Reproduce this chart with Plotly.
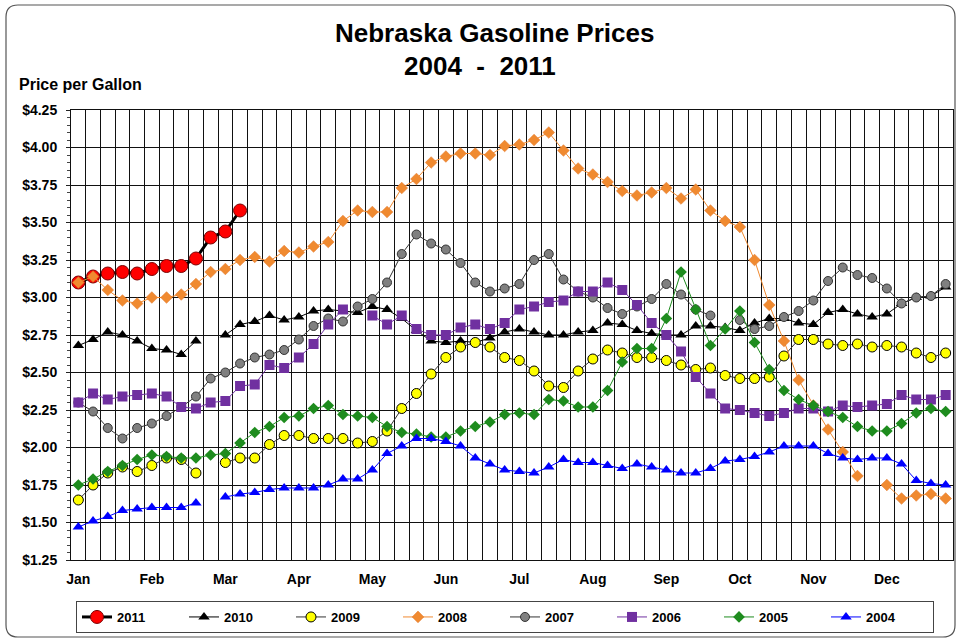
import plotly.graph_objects as go

# ---------------- data ----------------
slots = list(range(1, 61))          # 5 weekly slots per month
month_labels = ["Jan", "Feb", "Mar", "Apr", "May", "Jun",
                "Jul", "Aug", "Sep", "Oct", "Nov", "Dec"]
month_slots = [1, 6, 11, 16, 21, 26, 31, 36, 41, 46, 51, 56]
years = ["2011", "2010", "2009", "2008", "2007", "2006", "2005", "2004"]

p2011 = [3.10, 3.14, 3.16, 3.17, 3.16, 3.19, 3.21, 3.21, 3.26, 3.40, 3.44, 3.58]

p2010 = [2.68, 2.72, 2.77, 2.75, 2.71, 2.66, 2.65, 2.62, 2.71, None,
         2.75, 2.82, 2.84, 2.88, 2.85, 2.87, 2.91, 2.92, 2.91, 2.90,
         2.94, 2.92, 2.86, 2.78, 2.71, 2.70, 2.71, 2.70, 2.73, 2.77,
         2.79, 2.77, 2.75, 2.75, 2.77, 2.78, 2.83, 2.82, 2.78, 2.76,
         2.75, 2.75, 2.81, 2.81, 2.80, 2.78, 2.83, 2.86, 2.86, 2.83,
         2.82, 2.90, 2.92, 2.89, 2.87, 2.89, 2.96, 3.00, 3.01, 3.07]

p2009 = [1.65, 1.75, 1.83, 1.87, 1.84, 1.88, 1.93, 1.92, 1.83, None,
         1.90, 1.93, 1.93, 2.02, 2.08, 2.08, 2.06, 2.06, 2.06, 2.03,
         2.04, 2.11, 2.26, 2.36, 2.49, 2.60, 2.67, 2.70, 2.67, 2.60,
         2.58, 2.51, 2.41, 2.40, 2.51, 2.59, 2.65, 2.63, 2.60, 2.60,
         2.58, 2.55, 2.52, 2.53, 2.48, 2.46, 2.46, 2.47, 2.61, 2.72,
         2.72, 2.69, 2.68, 2.69, 2.67, 2.68, 2.67, 2.63, 2.60, 2.63]

p2008 = [3.10, 3.14, 3.05, 2.98, 2.96, 3.00, 3.00, 3.02, 3.09, 3.17,
         3.19, 3.25, 3.27, 3.24, 3.31, 3.30, 3.34, 3.37, 3.51, 3.58,
         3.57, 3.57, 3.73, 3.79, 3.90, 3.94, 3.96, 3.96, 3.95, 4.01,
         4.02, 4.05, 4.10, 3.98, 3.86, 3.82, 3.77, 3.71, 3.68, 3.70,
         3.73, 3.66, 3.72, 3.58, 3.51, 3.47, 3.25, 2.95, 2.71, 2.45,
         2.28, 2.12, 1.97, 1.81, None, 1.75, 1.66, 1.68, 1.69, 1.66]

p2007 = [2.30, 2.24, 2.13, 2.06, 2.13, 2.16, 2.21, 2.27, 2.34, 2.46,
         2.50, 2.56, 2.60, 2.62, 2.65, 2.72, 2.81, 2.86, 2.84, 2.94,
         2.99, 3.10, 3.29, 3.42, 3.36, 3.32, 3.23, 3.10, 3.04, 3.06,
         3.09, 3.25, 3.29, 3.12, 3.04, 3.00, 2.93, 2.89, 2.94, 2.99,
         3.09, 3.02, 2.92, 2.88, None, 2.85, 2.79, 2.81, 2.87, 2.91,
         2.98, 3.11, 3.20, 3.15, 3.13, 3.06, 2.96, 3.00, 3.01, 3.09]

p2006 = [2.30, 2.36, 2.32, 2.34, 2.35, 2.36, 2.34, 2.27, 2.26, 2.30,
         2.31, 2.41, 2.42, 2.55, 2.53, 2.60, 2.69, 2.82, 2.92, None,
         2.88, 2.82, 2.88, 2.79, 2.75, 2.75, 2.80, 2.82, 2.79, 2.83,
         2.92, 2.94, 2.97, 2.98, 3.04, 3.04, 3.10, 3.05, 2.95, 2.83,
         2.75, 2.64, 2.47, 2.36, 2.26, 2.25, 2.23, 2.21, 2.23, 2.26,
         2.26, 2.24, 2.28, 2.27, 2.28, 2.29, 2.35, 2.32, 2.32, 2.35]

p2005 = [1.75, 1.79, 1.84, 1.88, 1.92, 1.95, 1.94, 1.93, 1.93, 1.95,
         1.96, 2.03, 2.10, 2.14, 2.20, 2.21, 2.26, 2.28, 2.22, 2.21,
         2.20, 2.14, 2.10, 2.09, 2.07, 2.07, 2.11, 2.14, 2.17, 2.22,
         2.23, 2.22, 2.32, 2.31, 2.27, 2.27, 2.38, 2.57, 2.66, 2.66,
         2.86, 3.17, 2.92, 2.68, 2.79, 2.91, 2.70, 2.52, 2.38, 2.32,
         2.28, 2.24, 2.20, 2.14, 2.11, 2.11, 2.16, 2.23, 2.26, 2.24]

p2004 = [1.47, 1.51, 1.54, 1.58, 1.59, 1.60, 1.60, 1.60, 1.63, None,
         1.67, 1.69, 1.70, 1.72, 1.73, 1.73, 1.73, 1.75, 1.79, 1.79,
         1.85, 1.96, 2.01, 2.06, 2.06, 2.04, 2.01, 1.93, 1.89, 1.85,
         1.84, 1.83, 1.87, 1.92, 1.90, 1.90, 1.88, 1.86, 1.89, 1.87,
         1.85, 1.83, 1.83, 1.86, 1.91, 1.92, 1.94, 1.97, 2.01, 2.01,
         2.01, 1.96, 1.93, 1.92, 1.93, 1.93, 1.89, 1.78, 1.76, 1.75]

y_ticks = [1.25, 1.50, 1.75, 2.00, 2.25, 2.50, 2.75, 3.00, 3.25, 3.50, 3.75, 4.00, 4.25]
y_tick_text = ["$1.25", "$1.50", "$1.75", "$2.00", "$2.25", "$2.50", "$2.75",
               "$3.00", "$3.25", "$3.50", "$3.75", "$4.00", "$4.25"]

# ---------------- styles ----------------
styles = {
    "2011": dict(marker=dict(color="#FF0000", symbol="circle", size=13,
                             line=dict(color="#7A0000", width=1)),
                 line=dict(color="#000000", width=3)),
    "2010": dict(marker=dict(color="#000000", symbol="triangle-up", size=10),
                 line=dict(color="#000000", width=1)),
    "2009": dict(marker=dict(color="#FFFF00", symbol="circle", size=10,
                             line=dict(color="#000000", width=1)),
                 line=dict(color="#333333", width=1)),
    "2008": dict(marker=dict(color="#F08A30", symbol="diamond", size=9,
                             line=dict(color="#E07020", width=0.5)),
                 line=dict(color="#F08A30", width=1)),
    "2007": dict(marker=dict(color="#808080", symbol="circle", size=9,
                             line=dict(color="#333333", width=1)),
                 line=dict(color="#333333", width=1)),
    "2006": dict(marker=dict(color="#7030A0", symbol="square", size=10),
                 line=dict(color="#7030A0", width=1)),
    "2005": dict(marker=dict(color="#1E8C1E", symbol="diamond", size=9),
                 line=dict(color="#1E8C1E", width=1)),
    "2004": dict(marker=dict(color="#0000FF", symbol="triangle-up", size=10),
                 line=dict(color="#0000FF", width=1)),
}
values = {"2011": p2011, "2010": p2010, "2009": p2009, "2008": p2008,
          "2007": p2007, "2006": p2006, "2005": p2005, "2004": p2004}

fig = go.Figure()
for yr in years:
    vals = values[yr]
    fig.add_trace(go.Scatter(
        x=slots[:len(vals)], y=vals, name=yr, mode="lines+markers",
        connectgaps=False, marker=styles[yr]["marker"], line=styles[yr]["line"],
    ))

# layout geometry (pixels)
W, H = 961, 642
L, R, T, B = 71, 8, 110, 82
pw, ph = W - L - R, H - T - B


def px_x(px):
    return (px - L) / pw


def px_y(py):
    return (H - B - py) / ph


font_family = "Arial, Liberation Sans, sans-serif"

# rounded outer border
x0, x1, y0, y1, r = 6, 955, 5, 637, 12
path = (f"M {px_x(x0 + r)},{px_y(y0)} L {px_x(x1 - r)},{px_y(y0)} "
        f"Q {px_x(x1)},{px_y(y0)} {px_x(x1)},{px_y(y0 + r)} "
        f"L {px_x(x1)},{px_y(y1 - r)} Q {px_x(x1)},{px_y(y1)} {px_x(x1 - r)},{px_y(y1)} "
        f"L {px_x(x0 + r)},{px_y(y1)} Q {px_x(x0)},{px_y(y1)} {px_x(x0)},{px_y(y1 - r)} "
        f"L {px_x(x0)},{px_y(y0 + r)} Q {px_x(x0)},{px_y(y0)} {px_x(x0 + r)},{px_y(y0)} Z")

fig.update_layout(
    width=W, height=H,
    margin=dict(l=L, r=R, t=T, b=B, autoexpand=False),
    paper_bgcolor="white", plot_bgcolor="white",
    font=dict(family=font_family, size=12, color="black"),
    showlegend=True,
    legend=dict(orientation="h", x=px_x(505), xanchor="center", y=px_y(601), yanchor="top",
                bordercolor="#444444", borderwidth=1, bgcolor="white",
                font=dict(family=font_family, size=13, color="black", weight="bold"),
                entrywidth=62, entrywidthmode="pixels", traceorder="normal"),
    shapes=[dict(type="path", path=path, xref="paper", yref="paper",
                 line=dict(color="#555555", width=1.2), layer="below")],
    annotations=[
        dict(text="<b>Nebraska Gasoline Prices</b>", x=px_x(494), y=px_y(33),
             xref="paper", yref="paper", showarrow=False, xanchor="center", yanchor="middle",
             font=dict(size=26, family=font_family)),
        dict(text="<b>2004 &nbsp;-&nbsp; 2011</b>", x=px_x(480), y=px_y(66),
             xref="paper", yref="paper", showarrow=False, xanchor="center", yanchor="middle",
             font=dict(size=26, family=font_family)),
        dict(text="<b>Price per Gallon</b>", x=px_x(17), y=px_y(84),
             xref="paper", yref="paper", showarrow=False, xanchor="left", yanchor="middle",
             font=dict(size=16, family=font_family)),
    ],
)

fig.update_xaxes(
    range=[0.5, 60.5], tickmode="array", tickvals=month_slots, ticktext=month_labels,
    showgrid=False, zeroline=False, ticks="",
    tickfont=dict(size=14, weight="bold", family=font_family),
    showline=True, linecolor="#111111", linewidth=1, mirror=True,
    minor=dict(tickmode="linear", tick0=0.5, dtick=1, showgrid=True,
               gridcolor="#111111", gridwidth=1, ticks=""),
    ticklabelstandoff=6,
)
fig.update_yaxes(
    range=[1.25, 4.25], tickmode="array", tickvals=y_ticks, ticktext=y_tick_text,
    showgrid=True, gridcolor="#111111", gridwidth=1, zeroline=False,
    ticks="outside", ticklen=4, tickcolor="#222222",
    tickfont=dict(size=14, weight="bold", family=font_family),
    showline=True, linecolor="#111111", linewidth=1, mirror=True,
    minor=dict(tickmode="linear", tick0=1.25, dtick=0.05, ticks="outside",
               ticklen=3, tickcolor="#444444", showgrid=False),
    ticklabelstandoff=6,
)

fig.write_html("out.html", config={"displayModeBar": False},
               post_script="document.body.style.margin='0px';")
